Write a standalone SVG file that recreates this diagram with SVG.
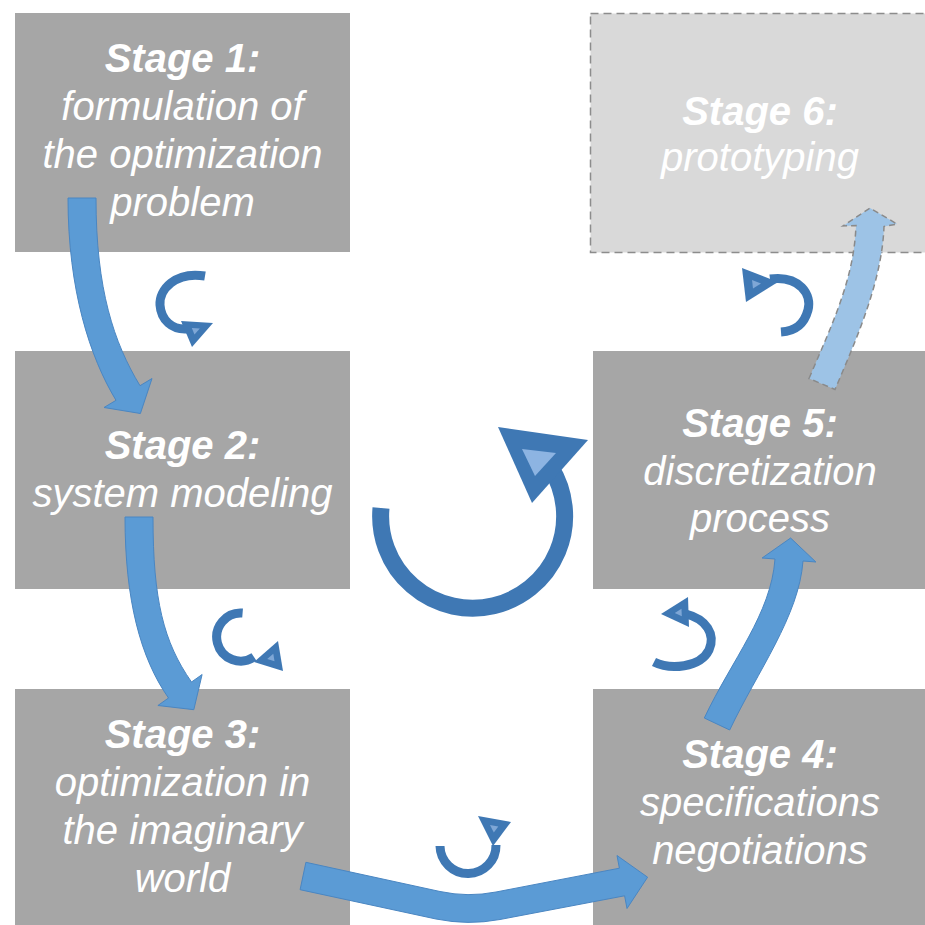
<svg xmlns="http://www.w3.org/2000/svg" width="925" height="925" viewBox="0 0 925 925">
<style>
.box{fill:#a6a6a6}
.box6{fill:#d9d9d9;stroke:#8c8c8c;stroke-width:1.5;stroke-dasharray:8 5}
text{font-family:"Liberation Sans",Arial,sans-serif;font-size:40px;fill:#ffffff;text-anchor:middle;font-style:italic}
.t{font-weight:bold}
.big{fill:#5b9bd5;stroke:#4a86c2;stroke-width:1}
.light{fill:#9dc3e6;stroke:#8a8a8a;stroke-width:1.5;stroke-dasharray:6 4}
.arc{fill:none;stroke:#3f78b4;stroke-width:9}
.head{fill:#3f78b4}
.hl{fill:#7fa7d6}
</style>
<rect width="925" height="925" fill="#ffffff"/>
<g id="stage1">
<rect class="box" x="15" y="13" width="335" height="239"/>
<text x="182.5" y="72" class="t">Stage 1:</text>
<text x="182.5" y="120">formulation of</text>
<text x="182.5" y="168">the optimization</text>
<text x="182.5" y="216">problem</text>
</g>
<g id="stage2">
<rect class="box" x="15" y="351" width="335" height="238"/>
<text x="182.5" y="459" class="t">Stage 2:</text>
<text x="182.5" y="507">system modeling</text>
</g>
<g id="stage3">
<rect class="box" x="15" y="689" width="335" height="240"/>
<text x="182.5" y="748" class="t">Stage 3:</text>
<text x="182.5" y="796">optimization in</text>
<text x="182.5" y="844">the imaginary</text>
<text x="182.5" y="892">world</text>
</g>
<g id="stage4">
<rect class="box" x="593" y="689" width="340" height="240"/>
<text x="760" y="768" class="t">Stage 4:</text>
<text x="760" y="816">specifications</text>
<text x="760" y="864">negotiations</text>
</g>
<g id="stage5">
<rect class="box" x="593" y="351" width="340" height="238"/>
<text x="760" y="437" class="t">Stage 5:</text>
<text x="760" y="485">discretization</text>
<text x="760" y="532">process</text>
</g>
<g id="stage6">
<rect class="box6" x="590.5" y="13.5" width="345" height="239"/>
<text x="760" y="125" class="t">Stage 6:</text>
<text x="760" y="171">prototyping</text>
</g>
<g id="connectors">
<path class="big" d="M68,198 C68,290 90,357.3 116,400.3 L104,407.5 L140.4,413.5 L152,378.5 L140,385.7 C114,342.7 96,290 96,198 Z"/>
<path class="big" d="M125,517 C125,600 140.5,658 168.5,698 L157.9,705.5 L193.8,709.7 L202.1,674.5 L191.5,682 C163.5,642 153,600 153,517 Z"/>
<path class="big" d="M305.9,862.3 L440,891.5 Q468,897.5 496,892 L619.4,868.2 L617,855.5 L647.6,877.2 L627,908.5 L624.6,895.8 L500,919.5 Q468,925.5 436,919 L300.1,889.7 Z"/>
<path class="big" d="M704.3,718 C732.3,659 771,614 775,559 L762.1,558 L790.6,538 L815.9,562 L803,561 C799,616 757.7,671 729.7,730 Z"/>
<path class="light" d="M809,378.5 C832,324.5 854,279.5 856,225.5 L843,226 L870,208 L897,224 L884,226.5 C882,280.5 858,335.5 835,389.5 Z"/>
<path class="arc" d="M205,276 C175,271 159,290 160,305 C161,320 172,330 187,329"/>
<polygon class="head" points="181,321 213,323 192,347"/>
<polygon class="hl" points="191.8,328 199.8,328.5 194.5,334.5"/>
<path class="arc" d="M242.6,613.1 A24,24 0 1 0 254,657"/>
<polygon class="head" points="278,641 283,671 254,662"/>
<polygon class="hl" points="273.3,653.8 274.5,661.3 267.2,659"/>
<path class="arc" d="M440,846 A28,28 0 0 0 496,845"/>
<polygon class="head" points="478,816 511,822 493,846"/>
<polygon class="hl" points="490,825 498.3,826.5 493.8,832.5"/>
<path class="arc" d="M654,662 C670,670 700,668 709,650 C716,634 706,619 686,614"/>
<polygon class="head" points="661,614 688,597 689,627"/>
<polygon class="hl" points="674.8,613 681.5,608.8 681.8,616.3"/>
<path class="arc" d="M770,279 C800,275 812,295 808,310 C804,325 795,331 781,332"/>
<polygon class="head" points="742,268 778,282 746,302"/>
<polygon class="hl" points="752,280 761,283.5 753,288.5"/>
<path fill="none" stroke="#3f78b4" stroke-width="17" d="M381,508 A92,92 0 1 0 551,468"/>
<polygon class="head" points="498,427 588,440 532,503"/>
<polygon fill="#8db4e2" points="522,449 556,453 535,476"/>
</g>
</svg>
